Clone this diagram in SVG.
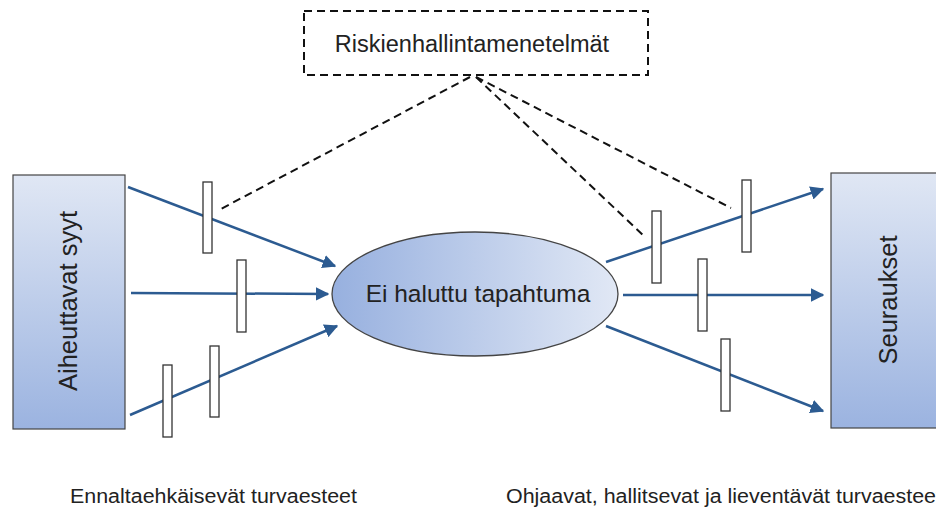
<svg xmlns="http://www.w3.org/2000/svg" width="936" height="510" viewBox="0 0 936 510">
  <defs>
    <linearGradient id="boxGrad" x1="0" y1="0" x2="0" y2="1">
      <stop offset="0" stop-color="#e0e7f4"/>
      <stop offset="1" stop-color="#9bb3e0"/>
    </linearGradient>
    <linearGradient id="ellGrad" x1="0" y1="0" x2="1" y2="0">
      <stop offset="0" stop-color="#97b0df"/>
      <stop offset="1" stop-color="#e1e8f5"/>
    </linearGradient>
    <marker id="arrow" viewBox="0 0 10 10" refX="9" refY="5" markerWidth="5.5" markerHeight="5.5" orient="auto" markerUnits="strokeWidth">
      <path d="M0,0 L10,5 L0,10 z" fill="#2c5b91"/>
    </marker>
    <style>
      .lbl { font-family: "Liberation Sans", Arial, sans-serif; fill: #222; }
      .flow { stroke: #2c5b91; stroke-width: 2.5; fill: none; marker-end: url(#arrow); }
      .dash { stroke: #111; stroke-width: 2; stroke-dasharray: 8 5; fill: none; }
      .barrier { fill: #fff; stroke: #333; stroke-width: 1.3; }
      .box { stroke: #444; stroke-width: 1.2; }
    </style>
  </defs>

  <!-- links from the control-measures box to the barriers, and the event flows -->
  <g id="connectors">
    <path class="dash" d="M470,77 L219,210"/>
    <path class="dash" d="M476,77 L644,236"/>
    <path class="dash" d="M476,77 L731,208"/>

    <path class="flow" d="M128,187 L335,266"/>
    <path class="flow" d="M131,293 L328,294"/>
    <path class="flow" d="M130,415 L337,326"/>

    <path class="flow" d="M606,262 L823,189"/>
    <path class="flow" d="M623,295 L823,295"/>
    <path class="flow" d="M606,326 L823,411"/>
  </g>

  <g id="methods">
    <rect x="304" y="11" width="344" height="64" fill="#fff" stroke="#111" stroke-width="2" stroke-dasharray="8 5"/>
    <text class="lbl" x="472" y="52" font-size="23.5" text-anchor="middle">Riskienhallintamenetelmät</text>
  </g>

  <g id="causes">
    <rect class="box" x="13" y="175" width="112" height="254" fill="url(#boxGrad)"/>
    <text class="lbl" x="0" y="0" font-size="25.5" text-anchor="middle" transform="translate(77,301) rotate(-90)">Aiheuttavat syyt</text>
  </g>

  <g id="consequences">
    <rect class="box" x="831" y="173" width="112" height="255" fill="url(#boxGrad)"/>
    <text class="lbl" x="0" y="0" font-size="25.5" text-anchor="middle" transform="translate(897,300) rotate(-90)">Seuraukset</text>
  </g>

  <g id="event">
    <ellipse cx="475" cy="294" rx="143" ry="62" fill="url(#ellGrad)" stroke="#444" stroke-width="1.3"/>
    <text class="lbl" x="478" y="302" font-size="24.5" text-anchor="middle">Ei haluttu tapahtuma</text>
  </g>

  <!-- preventive barriers -->
  <g id="barriers-left">
    <rect class="barrier" x="203" y="182" width="9" height="71"/>
    <rect class="barrier" x="237" y="260" width="9" height="72"/>
    <rect class="barrier" x="210" y="346" width="9" height="71"/>
    <rect class="barrier" x="163" y="365" width="9" height="72"/>
  </g>

  <!-- mitigating barriers -->
  <g id="barriers-right">
    <rect class="barrier" x="652" y="211" width="9" height="72"/>
    <rect class="barrier" x="742" y="180" width="9" height="72"/>
    <rect class="barrier" x="698" y="259" width="9" height="72"/>
    <rect class="barrier" x="721" y="339" width="9" height="72"/>
  </g>

  <g id="captions">
    <text class="lbl" x="70" y="503" font-size="19.5" textLength="287" lengthAdjust="spacingAndGlyphs">Ennaltaehkäisevät turvaesteet</text>
    <text class="lbl" x="506" y="503" font-size="19.5" textLength="436" lengthAdjust="spacingAndGlyphs">Ohjaavat, hallitsevat ja lieventävät turvaesteet</text>
  </g>
</svg>
